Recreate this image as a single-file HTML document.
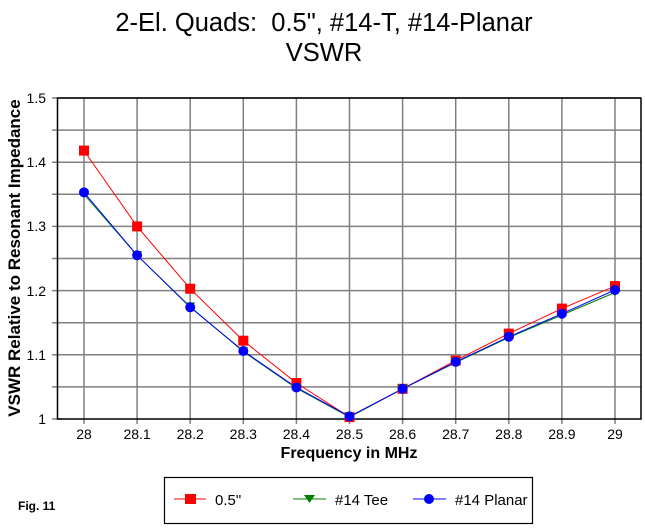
<!DOCTYPE html>
<html><head><style>body{margin:0;background:#fff}svg{display:block}text{font-family:"Liberation Sans",Arial,sans-serif}</style></head><body>
<svg width="645" height="529" viewBox="0 0 645 529" xmlns="http://www.w3.org/2000/svg">
<rect width="645" height="529" fill="#fff"/>
<text x="324" y="31" font-size="25.5" text-anchor="middle" xml:space="preserve">2-El. Quads:&#160; 0.5", #14-T, #14-Planar</text>
<text x="324" y="61" font-size="25.5" text-anchor="middle">VSWR</text>
<g stroke="#808080" stroke-width="1.5">
<line x1="52" y1="386.9" x2="641" y2="386.9"/><line x1="52" y1="354.8" x2="641" y2="354.8"/><line x1="52" y1="322.7" x2="641" y2="322.7"/><line x1="52" y1="290.6" x2="641" y2="290.6"/><line x1="52" y1="258.5" x2="641" y2="258.5"/><line x1="52" y1="226.4" x2="641" y2="226.4"/><line x1="52" y1="194.3" x2="641" y2="194.3"/><line x1="52" y1="162.2" x2="641" y2="162.2"/><line x1="52" y1="130.1" x2="641" y2="130.1"/><line x1="52" y1="98" x2="641" y2="98"/><line x1="52" y1="419" x2="62" y2="419"/>
<line x1="84" y1="98" x2="84" y2="424"/><line x1="137.1" y1="98" x2="137.1" y2="424"/><line x1="190.2" y1="98" x2="190.2" y2="424"/><line x1="243.3" y1="98" x2="243.3" y2="424"/><line x1="296.4" y1="98" x2="296.4" y2="424"/><line x1="349.5" y1="98" x2="349.5" y2="424"/><line x1="402.6" y1="98" x2="402.6" y2="424"/><line x1="455.7" y1="98" x2="455.7" y2="424"/><line x1="508.8" y1="98" x2="508.8" y2="424"/><line x1="561.9" y1="98" x2="561.9" y2="424"/><line x1="615" y1="98" x2="615" y2="424"/>
</g>
<rect x="57.5" y="98" width="583.5" height="321" fill="none" stroke="#000" stroke-width="1.5"/>
<g font-size="14" text-anchor="end">
<text x="46" y="424">1</text><text x="46" y="360">1.1</text><text x="46" y="296">1.2</text><text x="46" y="231">1.3</text><text x="46" y="167">1.4</text><text x="46" y="103">1.5</text>
</g>
<g font-size="14" text-anchor="middle">
<text x="84" y="439">28</text><text x="137.1" y="439">28.1</text><text x="190.2" y="439">28.2</text><text x="243.3" y="439">28.3</text><text x="296.4" y="439">28.4</text><text x="349.5" y="439">28.5</text><text x="402.6" y="439">28.6</text><text x="455.7" y="439">28.7</text><text x="508.8" y="439">28.8</text><text x="561.9" y="439">28.9</text><text x="615" y="439">29</text>
</g>
<text x="349" y="458" font-size="16" font-weight="bold" text-anchor="middle">Frequency in MHz</text>
<text transform="translate(20,258) rotate(-90)" font-size="17" font-weight="bold" text-anchor="middle">VSWR Relative to Resonant Impedance</text>
<polyline fill="none" stroke="#f00" stroke-width="1" points="84,150.6 137.1,226.4 190.2,288.7 243.3,340.7 296.4,383 349.5,417.1 402.6,388.8 455.7,360.6 508.8,333.6 561.9,308.6 615,286.1"/>
<polyline fill="none" stroke="#008000" stroke-width="1" points="84,194.3 137.1,255.3 190.2,306.7 243.3,351.6 296.4,388.2 349.5,417.1 402.6,388.8 455.7,362.5 508.8,337.5 561.9,315 615,292.5"/>
<polyline fill="none" stroke="#00f" stroke-width="1" points="84,192.4 137.1,255.3 190.2,307.3 243.3,351 296.4,387.5 349.5,416.4 402.6,388.8 455.7,361.9 508.8,336.8 561.9,313.7 615,290"/>
<g fill="#f00">
<rect x="79" y="145.6" width="10" height="10"/><rect x="132.1" y="221.4" width="10" height="10"/><rect x="185.2" y="283.7" width="10" height="10"/><rect x="238.3" y="335.7" width="10" height="10"/><rect x="291.4" y="378" width="10" height="10"/><rect x="344.5" y="412.1" width="10" height="10"/><rect x="397.6" y="383.8" width="10" height="10"/><rect x="450.7" y="355.6" width="10" height="10"/><rect x="503.8" y="328.6" width="10" height="10"/><rect x="556.9" y="303.6" width="10" height="10"/><rect x="610" y="281.1" width="10" height="10"/>
</g>
<g fill="#008000">
<path d="M79,190h10l-5,8z M132.1,251h10l-5,8z M185.2,302.4h10l-5,8z M238.3,347.3h10l-5,8z M291.4,383.9h10l-5,8z M344.5,412.8h10l-5,8z M397.6,384.5h10l-5,8z M450.7,358.2h10l-5,8z M503.8,333.2h10l-5,8z M556.9,310.7h10l-5,8z M610,288.2h10l-5,8z"/>
</g>
<g fill="#00f">
<circle cx="84" cy="192.4" r="5"/><circle cx="137.1" cy="255.3" r="5"/><circle cx="190.2" cy="307.3" r="5"/><circle cx="243.3" cy="351" r="5"/><circle cx="296.4" cy="387.5" r="5"/><circle cx="349.5" cy="416.4" r="5"/><circle cx="402.6" cy="388.8" r="5"/><circle cx="455.7" cy="361.9" r="5"/><circle cx="508.8" cy="336.8" r="5"/><circle cx="561.9" cy="313.7" r="5"/><circle cx="615" cy="290" r="5"/>
</g>
<text x="18" y="510" font-size="12" font-weight="bold">Fig. 11</text>
<rect x="164.5" y="477.5" width="368" height="46" fill="none" stroke="#000" stroke-width="1.2"/>
<line x1="174" y1="499" x2="206" y2="499" stroke="#f00"/><rect x="185" y="494" width="11" height="10" fill="#f00"/>
<text x="215" y="505" font-size="15">0.5"</text>
<line x1="293" y1="499" x2="326" y2="499" stroke="#008000"/><path d="M304,495h11l-5.5,8z" fill="#008000"/>
<text x="335" y="505" font-size="15">#14 Tee</text>
<line x1="413" y1="499" x2="446" y2="499" stroke="#00f"/><circle cx="429" cy="499" r="5" fill="#00f"/>
<text x="455" y="505" font-size="15">#14 Planar</text>
</svg>
</body></html>
